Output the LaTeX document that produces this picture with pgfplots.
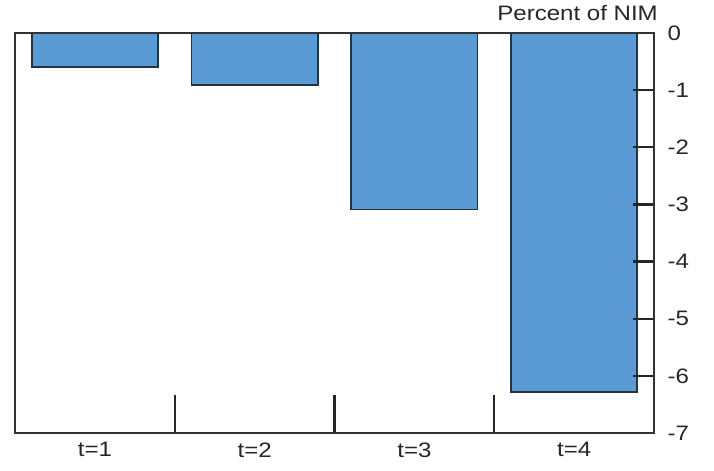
\documentclass[border=0pt]{standalone}
\usepackage{pgfplots}
\pgfplotsset{compat=1.18}
\usepackage{fontspec}
\setmainfont[FakeStretch=1.15]{Liberation Sans}
\definecolor{barblue}{HTML}{5B9BD5}
\definecolor{edge}{HTML}{253240}
\begin{document}
\begin{tikzpicture}
\useasboundingbox (0,0) rectangle (714bp,471bp);
\begin{axis}[
  name=ax,
  axis on top,
  at={(15bp,38bp)}, anchor=south west,
  scale only axis, width=639bp, height=400bp,
  xmin=0.5, xmax=4.5, ymin=-7, ymax=0,
  xtick={0.5,1.5,2.5,3.5,4.5}, xticklabels={t=1,t=2,t=3,t=4},
  x tick label as interval,
  minor xtick={1.5,2.5,3.5},
  xtick pos=bottom,
  ytick={-7,-6,-5,-4,-3,-2,-1,0},
  ytick pos=right, yticklabel pos=right,
  ytick align=inside,
  xtick align=inside,
  major tick length=21bp,
  minor tick length=38bp,
  tick style={draw=black!85, line width=2.2pt},
  every minor tick/.append style={draw=black!85, line width=2.2pt},
  every major tick/.append style={draw=black!85, line width=2.2pt},
  axis line style={draw=black!80, line width=1.8pt},
  tick label style={font=\fontsize{21}{23}\selectfont, text=black!85},
  /pgf/number format/assume math mode=true,
  yticklabel style={xshift=10bp},
  xticklabel style={yshift=-6bp},
]
\addplot[ybar, bar width=0.79, fill=barblue, draw=edge, line width=1.8pt] coordinates {(1,-0.6) (2,-0.91) (3,-3.09) (4,-6.28)};
\end{axis}
\node[anchor=base east, font=\fontsize{21}{23}\selectfont, text=black!85, inner sep=0pt] at ([xshift=4bp, yshift=13bp]ax.north east) {Percent of NIM};
\end{tikzpicture}
\end{document}
